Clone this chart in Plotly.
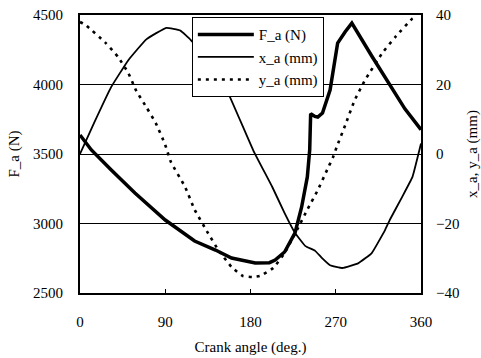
import plotly.graph_objects as go
from plotly.subplots import make_subplots

# Crank angle (deg.) and axial force F_a (N)
f_angle = [0, 12, 33, 58, 90, 121, 143, 160, 185, 200, 206, 216, 227, 234, 240,
           242.5, 243.5, 248, 251, 256, 264, 269, 272, 280, 287, 308, 325, 343, 360]
f_a = [3637, 3529, 3385, 3219, 3025, 2874, 2809, 2752, 2716, 2718, 2737, 2795, 2932, 3119, 3335,
       3529, 3790, 3770, 3766, 3795, 3960, 4155, 4298, 4380, 4442, 4205, 4020, 3825, 3675]

# x_a (mm)
xa_angle = [0, 15, 33, 51, 70, 91, 106, 117, 130, 143, 155, 183, 203, 216, 227, 238,
            248, 255, 264, 277, 294, 308, 322, 327, 340, 351, 360]
x_a = [0, 9, 19.3, 27, 33, 36.3, 35.5, 32.8, 28.5, 23.5, 18.4, 1, -9.5, -17, -22.7, -26.5,
       -27.8, -29.8, -32, -32.8, -31.4, -28.5, -21.9, -19, -12.4, -6.6, 3]

# y_a (mm)
ya_angle = [0, 6, 27, 40, 51, 59, 70, 80, 90, 96, 111, 121, 135, 146, 160, 172, 182, 190,
            204, 216, 229, 240, 251, 261, 267, 271, 280, 290, 301, 319, 333, 351, 355]
y_a = [38, 37.1, 32, 28, 23.3, 18.4, 13.5, 8.9, 2.6, -2.3, -9.5, -16, -22.7, -27.6, -32.5, -35.1,
       -35.4, -35.1, -32.8, -28.5, -21.9, -16, -10.4, -4.5, -1, 2, 8.3, 15.5, 21.3, 29, 33.7, 39, 39.5]

x_ticks = [0, 90, 180, 270, 360]

FONT = "Liberation Serif"

fig = make_subplots(specs=[[{"secondary_y": True}]])
fig.add_trace(go.Scatter(x=f_angle, y=f_a, name="F_a (N)", mode="lines",
                         line=dict(color="black", width=3.5)), secondary_y=False)
fig.add_trace(go.Scatter(x=xa_angle, y=x_a, name="x_a (mm)", mode="lines",
                         line=dict(color="black", width=1.8, shape="spline", smoothing=0.3)),
              secondary_y=True)
fig.add_trace(go.Scatter(x=ya_angle, y=y_a, name="y_a (mm)", mode="lines",
                         line=dict(color="black", width=2.6, dash="3px,5px", shape="spline", smoothing=0.4)),
              secondary_y=True)

fig.update_layout(
    width=481, height=358,
    margin=dict(l=80, r=60, t=15, b=65, autoexpand=False),
    paper_bgcolor="white", plot_bgcolor="white",
    font=dict(family=FONT, size=15, color="black"),
    showlegend=True,
    legend=dict(x=0.328, y=0.992, xanchor="left", yanchor="top",
                bgcolor="white", bordercolor="black", borderwidth=1,
                font=dict(family=FONT, size=15, color="black"),
                tracegroupgap=0, itemwidth=56),
)
fig.update_xaxes(domain=[0, 1], range=[0, 360], tickvals=x_ticks, ticks="inside", ticklen=4,
                 tickcolor="black", showgrid=False, zeroline=False, automargin=False,
                 showline=True, linecolor="black", linewidth=2, mirror=True,
                 ticklabelstandoff=14,
                 title=dict(text="Crank angle (deg.)", standoff=12,
                            font=dict(family=FONT, size=15, color="black")))
fig.update_yaxes(range=[2500, 4500], dtick=500, ticks="", showgrid=True,
                 gridcolor="black", gridwidth=1, zeroline=False, automargin=False,
                 showline=True, linecolor="black", linewidth=2, mirror=True,
                 ticklabelstandoff=12,
                 title=dict(text="F_a (N)", standoff=10,
                            font=dict(family=FONT, size=15, color="black")),
                 secondary_y=False)
fig.update_yaxes(range=[-40, 40], dtick=20, ticks="", showgrid=False, zeroline=False,
                 automargin=False,
                 showline=True, linecolor="black", linewidth=2,
                 ticklabelstandoff=10,
                 title=dict(text="x_a, y_a (mm)", standoff=18,
                            font=dict(family=FONT, size=15, color="black")),
                 secondary_y=True)

page_fix = (
    "document.documentElement.style.margin='0';"
    "document.body.style.margin='0';"
    "document.body.style.overflow='hidden';"
)

fig.write_html("out.html", post_script=page_fix, config={"displayModeBar": False})
